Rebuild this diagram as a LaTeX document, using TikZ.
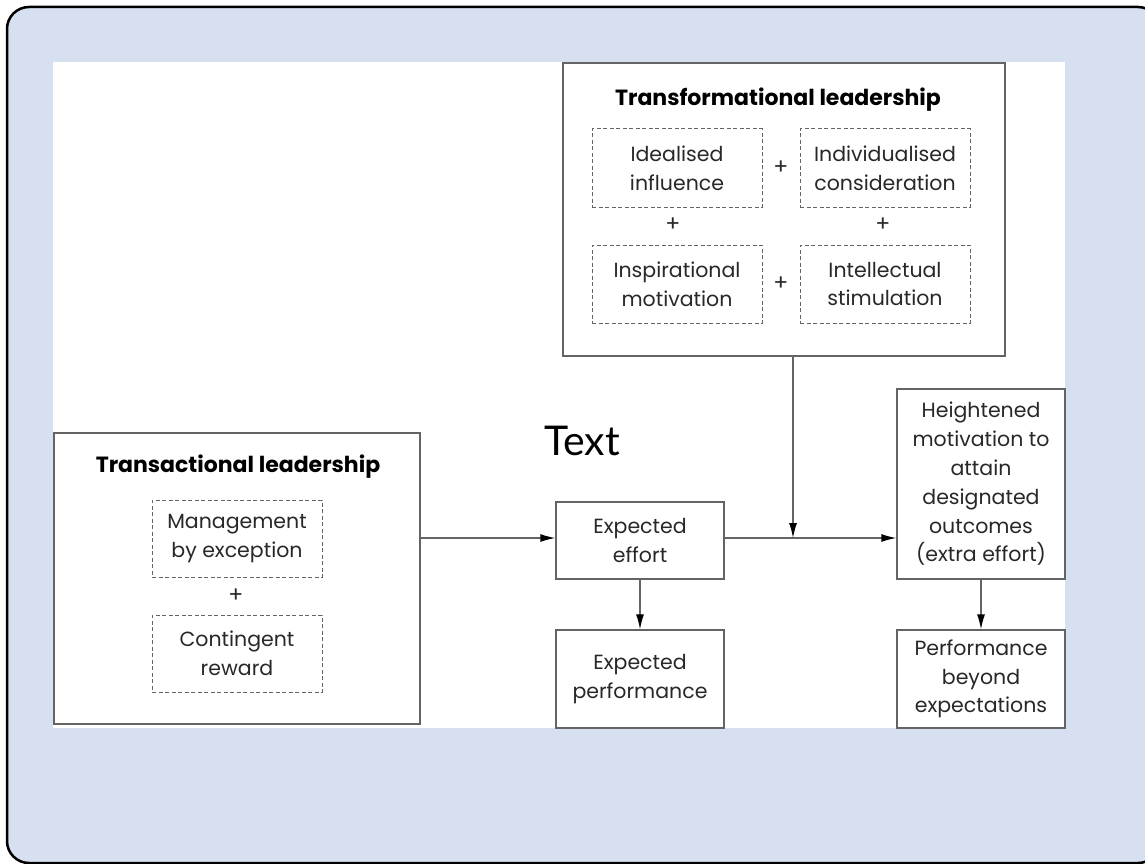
\documentclass[tikz,border=0pt]{standalone}
\usepackage{fontspec}
\setmainfont{Poppins}
\newfontfamily\latofont{Lato}
\usetikzlibrary{arrows.meta}
\definecolor{bgblue}{RGB}{214,224,241}
\definecolor{boxline}{RGB}{100,100,100}
\definecolor{txt}{RGB}{40,40,40}
\tikzset{
  solidbox/.style={draw=boxline, line width=1.3pt, fill=white, minimum width=#1, inner sep=0pt, align=center, text=txt, font=\fontsize{20.5}{28.8}\selectfont},
  dashbox/.style={draw=boxline, line width=1pt, dash pattern=on 4pt off 2.5pt, minimum width=170pt, minimum height=78pt, inner sep=0pt, align=center, text=txt, font=\fontsize{20.5}{28.8}\selectfont},
  plus/.style={text=txt, inner sep=0pt, font=\fontsize{22}{22}\selectfont},
  title/.style={text=black, inner sep=0pt, font=\bfseries\fontsize{22}{24}\selectfont},
  conn/.style={draw=boxline, line width=1.3pt},
  arr/.style={conn, -{Latex[length=15pt,width=8pt,black]}}
}
\begin{document}
\begin{tikzpicture}[x=1pt,y=-1pt]
\useasboundingbox (0,0) rectangle (1145,864);
\clip (0,0) rectangle (1145,864);
\draw[line width=2.5pt, fill=bgblue, rounded corners=22pt] (7,7) rectangle (1160,863);
\fill[white] (53,62) rectangle (1065,728);

% Transformational
\node[solidbox=442pt, minimum height=293pt] (tf) at (784,209.5) {};
\node[title] (tft) at (778,100) {Transformational leadership};
\node[dashbox] (d1) at (677,168) {Idealised\\influence};
\node[dashbox] (d2) at (885,168) {Individualised\\consideration};
\node[dashbox] (d3) at (677,284) {Inspirational\\motivation};
\node[dashbox] (d4) at (885,284) {Intellectual\\stimulation};
\node[plus] (p1) at (781,168) {+};
\node[plus] (p2) at (781,284) {+};
\node[plus] (p3) at (673,225) {+};
\node[plus] (p4) at (883,225) {+};

% Transactional
\node[solidbox=366pt, minimum height=291pt] (ta) at (237,578.5) {};
\node[title] (tat) at (238,467) {Transactional leadership};
\node[dashbox, minimum height=77pt] (m1) at (237,538.5) {Management\\by exception};
\node[dashbox, minimum height=77pt] (m2) at (237,653.5) {Contingent\\reward};
\node[plus] (p5) at (236,596) {+};

% Text label
\node[inner sep=0pt, font=\latofont\fontsize{41}{41}\selectfont] (lbl) at (582,441) {Text};

% Flow boxes
\node[solidbox=168pt, minimum height=77pt] (ee) at (640,540.5) {Expected\\effort};
\node[solidbox=168pt, minimum height=98pt] (ep) at (640,679) {Expected\\performance};
\node[solidbox=168pt, minimum height=190pt] (hm) at (981,484) {Heightened\\motivation to\\attain\\designated\\outcomes\\(extra effort)};
\node[solidbox=168pt, minimum height=98pt] (pb) at (981,679) {Performance\\beyond\\expectations};

\coordinate (j) at (793,538);

\draw[arr] (ta.east |- j) -- (ee.west |- j);
\draw[conn] (ee.east |- j) -- (j);
\draw[arr] (j) -- (hm.west |- j);
\draw[arr] (j |- tf.south) -- (j);
\draw[arr] (ee.south) -- (ep.north);
\draw[arr] (hm.south) -- (pb.north);
\end{tikzpicture}
\end{document}
